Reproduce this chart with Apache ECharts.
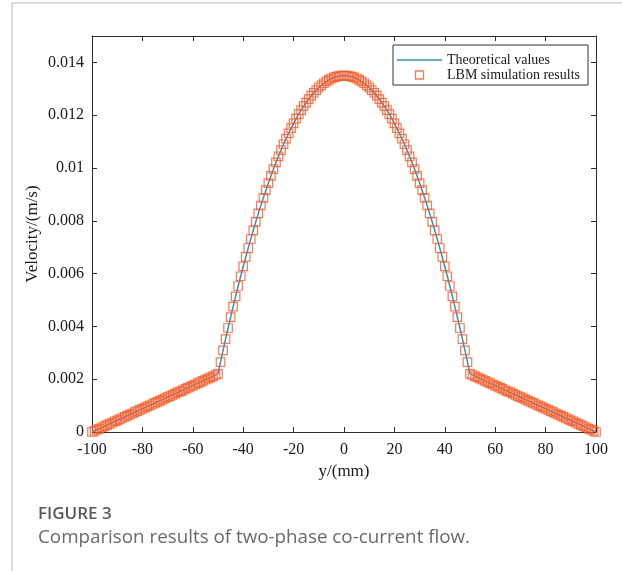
<!DOCTYPE html>
<html>
<head>
<meta charset="utf-8">
<script src="https://cdn.jsdelivr.net/npm/echarts@6/dist/echarts.min.js"></script>
<style>
html,body{margin:0;padding:0;background:#fff;}
#chart{width:622px;height:571px;}
</style>
</head>
<body>
<div id="chart"></div>
<script>
// ---- data ----
var xTicks = [-100, -80, -60, -40, -20, 0, 20, 40, 60, 80, 100];
var yTicks = [0, 0.002, 0.004, 0.006, 0.008, 0.01, 0.012, 0.014];

var theoryY = [-100, -50, -48, -46, -44, -42, -40, -38, -36, -34, -32, -30, -28, -26, -24, -22, -20, -18, -16, -14, -12, -10, -8, -6, -4, -2, 0,
  2, 4, 6, 8, 10, 12, 14, 16, 18, 20, 22, 24, 26, 28, 30, 32, 34, 36, 38, 40, 42, 44, 46, 48, 50, 100];
var theoryV = [0, 0.0022, 0.00309, 0.00394, 0.00475, 0.00553, 0.00627, 0.00697, 0.00764, 0.00828, 0.00887, 0.00943, 0.00996, 0.01044, 0.0109, 0.01131, 0.01169, 0.01204, 0.01234, 0.01261, 0.01285, 0.01305, 0.01321, 0.01334, 0.01343, 0.01348, 0.0135,
  0.01348, 0.01343, 0.01334, 0.01321, 0.01305, 0.01285, 0.01261, 0.01234, 0.01204, 0.01169, 0.01131, 0.0109, 0.01044, 0.00996, 0.00943, 0.00887, 0.00828, 0.00764, 0.00697, 0.00627, 0.00553, 0.00475, 0.00394, 0.00309, 0.0022, 0];

var lbmY = [-100, -99, -98, -97, -96, -95, -94, -93, -92, -91, -90, -89, -88, -87, -86, -85, -84, -83, -82, -81,
  -80, -79, -78, -77, -76, -75, -74, -73, -72, -71, -70, -69, -68, -67, -66, -65, -64, -63, -62, -61,
  -60, -59, -58, -57, -56, -55, -54, -53, -52, -51, -50, -49, -48, -47, -46, -45, -44, -43, -42, -41,
  -40, -39, -38, -37, -36, -35, -34, -33, -32, -31, -30, -29, -28, -27, -26, -25, -24, -23, -22, -21,
  -20, -19, -18, -17, -16, -15, -14, -13, -12, -11, -10, -9, -8, -7, -6, -5, -4, -3, -2, -1,
  0, 1, 2, 3, 4, 5, 6, 7, 8, 9, 10, 11, 12, 13, 14, 15, 16, 17, 18, 19,
  20, 21, 22, 23, 24, 25, 26, 27, 28, 29, 30, 31, 32, 33, 34, 35, 36, 37, 38, 39,
  40, 41, 42, 43, 44, 45, 46, 47, 48, 49, 50, 51, 52, 53, 54, 55, 56, 57, 58, 59,
  60, 61, 62, 63, 64, 65, 66, 67, 68, 69, 70, 71, 72, 73, 74, 75, 76, 77, 78, 79,
  80, 81, 82, 83, 84, 85, 86, 87, 88, 89, 90, 91, 92, 93, 94, 95, 96, 97, 98, 99, 100];
var lbmV = [0, 0.00004, 0.00009, 0.00013, 0.00018, 0.00022, 0.00026, 0.00031, 0.00035, 0.0004, 0.00044, 0.00048, 0.00053, 0.00057, 0.00062, 0.00066, 0.0007, 0.00075, 0.00079, 0.00084,
  0.00088, 0.00092, 0.00097, 0.00101, 0.00106, 0.0011, 0.00114, 0.00119, 0.00123, 0.00128, 0.00132, 0.00136, 0.00141, 0.00145, 0.0015, 0.00154, 0.00158, 0.00163, 0.00167, 0.00172,
  0.00176, 0.0018, 0.00185, 0.00189, 0.00194, 0.00198, 0.00202, 0.00207, 0.00211, 0.00216, 0.0022, 0.00265, 0.00309, 0.00352, 0.00394, 0.00435, 0.00475, 0.00514, 0.00553, 0.0059,
  0.00627, 0.00663, 0.00697, 0.00731, 0.00764, 0.00796, 0.00828, 0.00858, 0.00887, 0.00916, 0.00943, 0.0097, 0.00996, 0.01021, 0.01044, 0.01068, 0.0109, 0.01111, 0.01131, 0.01151,
  0.01169, 0.01187, 0.01204, 0.01219, 0.01234, 0.01248, 0.01261, 0.01274, 0.01285, 0.01295, 0.01305, 0.01313, 0.01321, 0.01328, 0.01334, 0.01339, 0.01343, 0.01346, 0.01348, 0.0135,
  0.0135, 0.0135, 0.01348, 0.01346, 0.01343, 0.01339, 0.01334, 0.01328, 0.01321, 0.01313, 0.01305, 0.01295, 0.01285, 0.01274, 0.01261, 0.01248, 0.01234, 0.01219, 0.01204, 0.01187,
  0.01169, 0.01151, 0.01131, 0.01111, 0.0109, 0.01068, 0.01044, 0.01021, 0.00996, 0.0097, 0.00943, 0.00916, 0.00887, 0.00858, 0.00828, 0.00796, 0.00764, 0.00731, 0.00697, 0.00663,
  0.00627, 0.0059, 0.00553, 0.00514, 0.00475, 0.00435, 0.00394, 0.00352, 0.00309, 0.00265, 0.0022, 0.00216, 0.00211, 0.00207, 0.00202, 0.00198, 0.00194, 0.00189, 0.00185, 0.0018,
  0.00176, 0.00172, 0.00167, 0.00163, 0.00158, 0.00154, 0.0015, 0.00145, 0.00141, 0.00136, 0.00132, 0.00128, 0.00123, 0.00119, 0.00114, 0.0011, 0.00106, 0.00101, 0.00097, 0.00092,
  0.00088, 0.00084, 0.00079, 0.00075, 0.0007, 0.00066, 0.00062, 0.00057, 0.00053, 0.00048, 0.00044, 0.0004, 0.00035, 0.00031, 0.00026, 0.00022, 0.00018, 0.00013, 0.00009, 0.00004, 0];

var seriesNames = ['Theoretical values', 'LBM simulation results'];
var xName = 'y/(mm)';
var yName = 'Velocity/(m/s)';
var figLabel = 'FIGURE 3';
var figCaption = 'Comparison results of two-phase co-current flow.';

// ---- build ----
function zip(a, b) { var out = []; for (var i = 0; i < a.length; i++) out.push([a[i], b[i]]); return out; }

var serif = "'Liberation Serif', 'Times New Roman', serif";
var axisCol = '#2b2b2b';
var textCol = '#1a1a1a';
var lineBlue = '#1e98d8';
var markOrange = '#ff5722';

var chart = echarts.init(document.getElementById('chart'), null, {renderer: 'canvas'});

var commonX = {
  type: 'value', min: xTicks[0], max: xTicks[xTicks.length - 1], interval: xTicks[1] - xTicks[0],
  axisLine: {show: true, onZero: false, lineStyle: {color: axisCol, width: 1}},
  axisTick: {show: true, inside: true, length: 5, lineStyle: {color: axisCol}},
  splitLine: {show: false}
};
var commonY = {
  type: 'value', min: yTicks[0], max: 0.015, interval: yTicks[1] - yTicks[0],
  axisLine: {show: true, onZero: false, lineStyle: {color: axisCol, width: 1}},
  axisTick: {show: true, inside: true, length: 5, lineStyle: {color: axisCol}},
  splitLine: {show: false}
};

var option = {
  animation: false,
  backgroundColor: '#fff',
  grid: {left: 92, right: 26, top: 36, bottom: 139, containLabel: false},
  xAxis: [
    Object.assign({}, commonX, {
      position: 'bottom',
      name: xName, nameLocation: 'middle', nameGap: 31, nameMoveOverlap: false,
      nameTextStyle: {fontFamily: serif, fontSize: 17, color: textCol},
      axisLabel: {show: true, margin: 10, fontFamily: serif, fontSize: 16, color: textCol}
    }),
    Object.assign({}, commonX, {position: 'top', axisLabel: {show: false}})
  ],
  yAxis: [
    Object.assign({}, commonY, {
      position: 'left',
      name: yName, nameLocation: 'middle', nameGap: 51, nameRotate: 90, nameMoveOverlap: false,
      nameTextStyle: {fontFamily: serif, fontSize: 17, color: textCol},
      axisLabel: {show: true, margin: 8, fontFamily: serif, fontSize: 16, color: textCol, showMaxLabel: false}
    }),
    Object.assign({}, commonY, {position: 'right', axisLabel: {show: false}})
  ],
  legend: {
    orient: 'vertical', left: 393, top: 45,
    itemWidth: 45, itemHeight: 8, itemGap: 1,
    padding: [8, 8, 3, 4],
    symbolKeepAspect: true,
    borderColor: '#333', borderWidth: 1, backgroundColor: '#fff',
    textStyle: {fontFamily: serif, fontSize: 14, color: textCol},
    data: [
      {name: seriesNames[0], icon: 'path://M0,0 L45,0 L45,1.5 L0,1.5 Z', itemStyle: {color: lineBlue, borderWidth: 0}},
      {name: seriesNames[1], icon: 'path://M0,0 L8,0 L8,8 L0,8 Z', itemStyle: {color: 'rgba(0,0,0,0)', borderColor: markOrange, borderWidth: 1.3}}
    ]
  },
  series: [
    {
      name: seriesNames[0], type: 'line', xAxisIndex: 0, yAxisIndex: 0,
      data: zip(theoryY, theoryV), symbol: 'none', showSymbol: false,
      lineStyle: {color: lineBlue, width: 1.5}, itemStyle: {color: lineBlue}, z: 2
    },
    {
      name: seriesNames[1], type: 'scatter', xAxisIndex: 0, yAxisIndex: 0,
      data: zip(lbmY, lbmV), symbol: 'rect', symbolSize: 8.5,
      itemStyle: {color: 'rgba(0,0,0,0)', borderColor: markOrange, borderWidth: 1.2}, z: 3
    }
  ],
  graphic: [
    {type: 'line', shape: {x1: 12, y1: 3, x2: 622, y2: 3}, style: {stroke: '#cfcfcf', lineWidth: 1.5}, silent: true},
    {type: 'line', shape: {x1: 12, y1: 3, x2: 12, y2: 571}, style: {stroke: '#cfcfcf', lineWidth: 1.5}, silent: true},
    {type: 'text', left: 38, top: 506, style: {text: figLabel, font: "600 17px 'Open Sans', sans-serif", fill: '#5a5a5a'}},
    {type: 'text', left: 38, top: 528, style: {text: figCaption, font: "18.8px 'Open Sans', sans-serif", fill: '#6a6a6a'}}
  ]
};
chart.setOption(option);
</script>
</body>
</html>
